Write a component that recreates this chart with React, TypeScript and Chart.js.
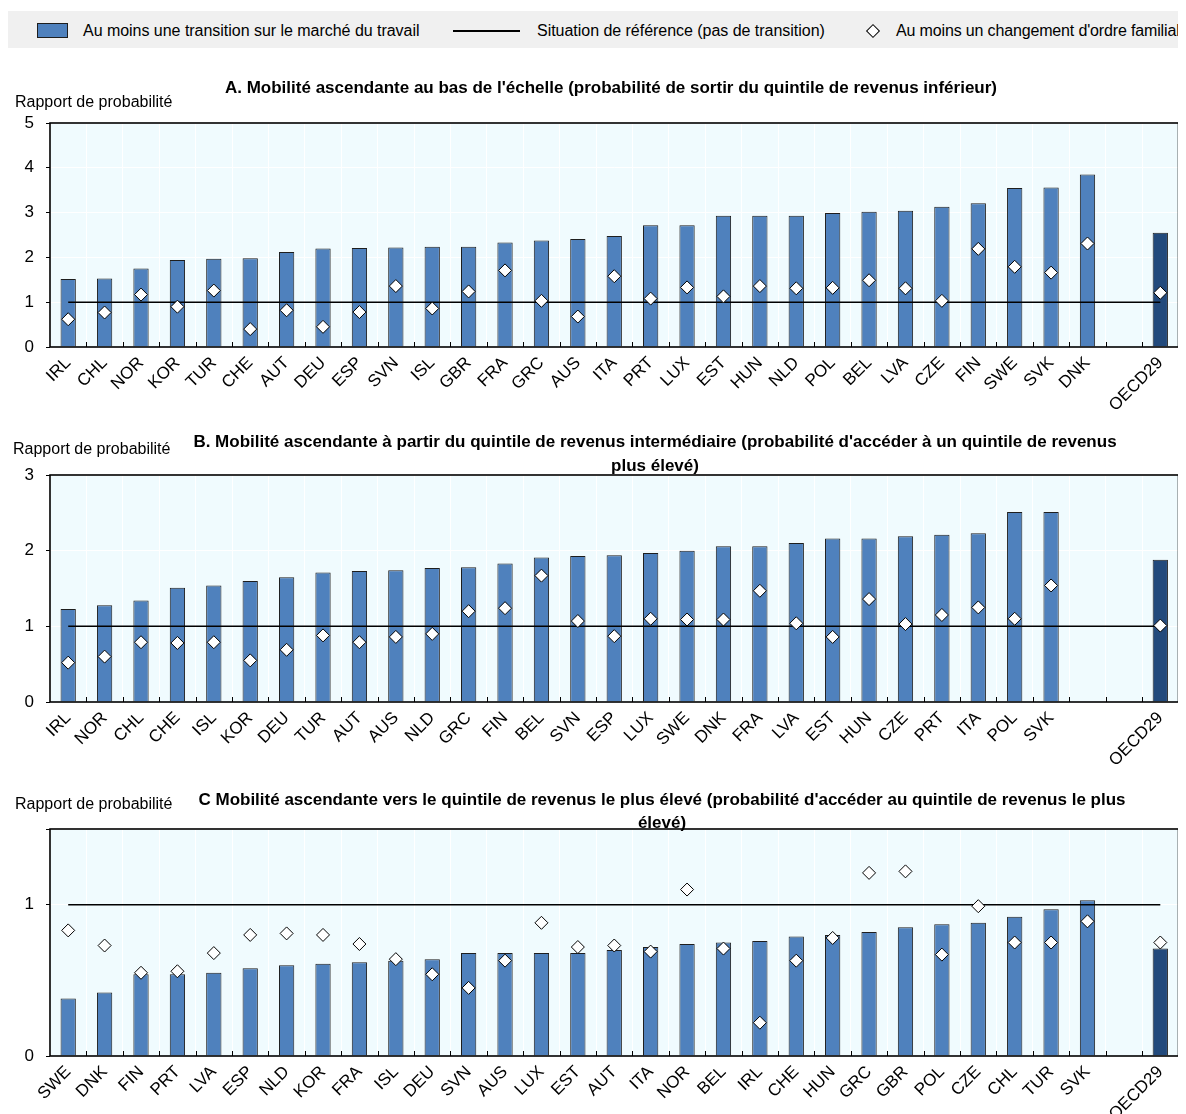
import React, { useEffect, useRef } from 'react';
import { Chart, registerables } from 'chart.js';

Chart.register(...registerables);

const FONT = "'Liberation Sans Narrow', 'Arial Narrow', 'Liberation Sans', Arial, sans-serif";

// ---------- Data ----------
const referenceValue = 1;

const labelsA = ['IRL','CHL','NOR','KOR','TUR','CHE','AUT','DEU','ESP','SVN','ISL','GBR','FRA','GRC','AUS','ITA','PRT','LUX','EST','HUN','NLD','POL','BEL','LVA','CZE','FIN','SWE','SVK','DNK','','OECD29'];
const barsA = [1.52,1.53,1.75,1.94,1.97,1.98,2.12,2.20,2.21,2.22,2.24,2.24,2.33,2.38,2.41,2.48,2.72,2.72,2.93,2.93,2.93,2.99,3.02,3.04,3.13,3.21,3.55,3.56,3.85,null,2.55];
const diamondsA = [0.62,0.77,1.17,0.90,1.26,0.40,0.82,0.45,0.78,1.36,0.86,1.24,1.71,1.03,0.68,1.58,1.08,1.33,1.13,1.36,1.31,1.32,1.49,1.31,1.03,2.19,1.79,1.66,2.31,null,1.21];

const labelsB = ['IRL','NOR','CHL','CHE','ISL','KOR','DEU','TUR','AUT','AUS','NLD','GRC','FIN','BEL','SVN','ESP','LUX','SWE','DNK','FRA','LVA','EST','HUN','CZE','PRT','ITA','POL','SVK','','','OECD29'];
const barsB = [1.23,1.28,1.34,1.51,1.54,1.60,1.65,1.71,1.73,1.74,1.77,1.78,1.83,1.91,1.93,1.94,1.97,2.00,2.06,2.06,2.10,2.16,2.16,2.19,2.21,2.23,2.51,2.51,null,null,1.88];
const diamondsB = [0.52,0.60,0.79,0.78,0.79,0.55,0.69,0.88,0.79,0.86,0.90,1.20,1.24,1.67,1.07,0.87,1.10,1.09,1.09,1.47,1.04,0.86,1.36,1.03,1.15,1.25,1.10,1.54,null,null,1.01];

const labelsC = ['SWE','DNK','FIN','PRT','LVA','ESP','NLD','KOR','FRA','ISL','DEU','SVN','AUS','LUX','EST','AUT','ITA','NOR','BEL','IRL','CHE','HUN','GRC','GBR','POL','CZE','CHL','TUR','SVK','','OECD29'];
const barsC = [0.38,0.42,0.54,0.54,0.55,0.58,0.60,0.61,0.62,0.63,0.64,0.68,0.68,0.68,0.68,0.70,0.72,0.74,0.75,0.76,0.79,0.80,0.82,0.85,0.87,0.88,0.92,0.97,1.03,null,0.71];
const diamondsC = [0.83,0.73,0.55,0.56,0.68,0.80,0.81,0.80,0.74,0.64,0.54,0.45,0.63,0.88,0.72,0.73,0.69,1.10,0.71,0.22,0.63,0.78,1.21,1.22,0.67,0.99,0.75,0.75,0.89,null,0.75];

const yMaxA = 5;
const yMaxB = 3;
const yMaxC = 1.5;

const legendLabels = [
  'Au moins une transition sur le marché du travail',
  'Situation de référence (pas de transition)',
  "Au moins un changement d'ordre familial",
];
const yAxisTitle = 'Rapport de probabilité';
const titleA = ["A. Mobilité ascendante au bas de l'échelle (probabilité de sortir du quintile de revenus inférieur)"];
const titleB = ["B. Mobilité ascendante à partir du quintile de revenus intermédiaire (probabilité d'accéder à un quintile de revenus", 'plus élevé)'];
const titleC = ["C Mobilité ascendante vers le quintile de revenus le plus élevé (probabilité d'accéder au quintile de revenus le plus", 'élevé)'];

// ---------- Styles ----------
const BAR = '#4F81BD';
const BAR_DARK = '#224A7C';
const BAR_BORDER = '#1E1E1E';
const PLOT_BG = '#F0FBFE';

const framePlugin = {
  id: 'frame',
  beforeDraw(chart: any) {
    const { ctx, chartArea: a } = chart;
    ctx.save();
    ctx.fillStyle = PLOT_BG;
    ctx.fillRect(a.left, a.top, a.right - a.left, a.bottom - a.top);
    ctx.restore();
  },
  afterDatasetsDraw(chart: any) {
    const { ctx, chartArea: a } = chart;
    const n = chart.data.labels.length;
    const w = (a.right - a.left) / n;
    ctx.save();
    ctx.strokeStyle = '#000';
    ctx.lineWidth = 1;
    for (let i = 1; i < n; i++) {
      const x = Math.round(a.left + i * w) + 0.5;
      ctx.beginPath();
      ctx.moveTo(x, a.bottom);
      ctx.lineTo(x, a.bottom - 5);
      ctx.stroke();
    }
    ctx.lineWidth = 1.6;
    ctx.strokeRect(a.left, a.top, a.right - a.left, a.bottom - a.top);
    ctx.restore();
  },
};

type PanelProps = {
  labels: string[];
  bars: (number | null)[];
  diamonds: (number | null)[];
  yMax: number;
  top: number;
  plotHeight: number;
  xAxisHeight: number;
};

function Panel({ labels, bars, diamonds, yMax, top, plotHeight, xAxisHeight }: PanelProps) {
  const ref = useRef<HTMLCanvasElement | null>(null);
  const padTop = 20;
  const height = padTop + plotHeight + xAxisHeight;
  useEffect(() => {
    if (!ref.current) return;
    const chart = new Chart(ref.current, {
      type: 'bar',
      data: {
        labels,
        datasets: [
          {
            type: 'bar',
            data: bars as any,
            backgroundColor: labels.map((l) => (l === 'OECD29' ? BAR_DARK : BAR)),
            borderColor: BAR_BORDER,
            borderWidth: 1,
            barPercentage: 0.42,
            categoryPercentage: 1,
            order: 3,
          } as any,
          {
            type: 'line',
            data: labels.map(() => referenceValue),
            borderColor: '#000',
            borderWidth: 1.5,
            pointRadius: 0,
            fill: false,
            order: 2,
          } as any,
          {
            type: 'line',
            data: diamonds as any,
            showLine: false,
            pointStyle: 'rectRot',
            pointRadius: 6.5,
            pointBackgroundColor: '#fff',
            pointBorderColor: '#000',
            pointBorderWidth: 1,
            order: 1,
          } as any,
        ],
      },
      options: {
        animation: false,
        responsive: false,
        maintainAspectRatio: false,
        layout: { padding: { top: padTop, right: 4, left: 0, bottom: 0 } },
        plugins: { legend: { display: false }, tooltip: { enabled: false }, title: { display: false } },
        scales: {
          x: {
            grid: { color: '#FFFFFF', drawTicks: false, offset: true },
            border: { display: false },
            ticks: {
              autoSkip: false,
              maxRotation: 45,
              minRotation: 45,
              color: '#000',
              padding: 6,
              font: { size: 17, family: FONT },
            },
            afterFit(s: any) {
              s.height = xAxisHeight;
              s.paddingLeft = 0;
              s.paddingRight = 0;
            },
          },
          y: {
            min: 0,
            max: yMax,
            grid: { color: '#FFFFFF', tickColor: '#000', tickLength: 4 },
            border: { display: false },
            ticks: {
              stepSize: 1,
              color: '#000',
              padding: 12,
              font: { size: 17, family: FONT },
              callback: (v: any) => (Number.isInteger(v) ? String(v) : ''),
            },
            afterFit(s: any) {
              s.width = 42;
              s.paddingTop = 0;
              s.paddingBottom = 0;
            },
          },
        },
      } as any,
      plugins: [framePlugin],
    });
    return () => chart.destroy();
  }, []);
  return (
    <canvas
      ref={ref}
      width={1178}
      height={height}
      style={{ position: 'absolute', left: 0, top, width: 1178, height, display: 'block' }}
    />
  );
}

const textBase: React.CSSProperties = {
  position: 'absolute',
  fontFamily: FONT,
  fontSize: 16,
  color: '#000',
  whiteSpace: 'nowrap',
};

function Title({ lines, center, top, lh }: { lines: string[]; center: number; top: number; lh: number }) {
  return (
    <div
      style={{
        ...textBase,
        fontSize: 17,
        left: center - 600,
        width: 1200,
        top,
        lineHeight: lh + 'px',
        textAlign: 'center',
        fontWeight: 'bold',
        zIndex: 2,
      }}
    >
      {lines.map((l, i) => (
        <div key={i}>{l}</div>
      ))}
    </div>
  );
}

export default function App() {
  return (
    <div style={{ position: 'relative', width: 1178, height: 1106, fontFamily: FONT }}>
      {/* Legend */}
      <div style={{ position: 'absolute', left: 0, top: 3, width: 1178, height: 37, background: '#F0F0F0' }} />
      <div
        style={{
          position: 'absolute',
          left: 29,
          top: 15,
          width: 31,
          height: 15,
          background: BAR,
          border: '1px solid #1E1E1E',
          boxSizing: 'border-box',
        }}
      />
      <div style={{ ...textBase, left: 75, top: 13, lineHeight: '20px', letterSpacing: '-0.03px' }}>{legendLabels[0]}</div>
      <div style={{ position: 'absolute', left: 445, top: 22, width: 67, height: 1.5, background: '#000' }} />
      <div style={{ ...textBase, left: 529, top: 13, lineHeight: '20px', letterSpacing: '-0.03px' }}>{legendLabels[1]}</div>
      <div
        style={{
          position: 'absolute',
          left: 860,
          top: 18,
          width: 10,
          height: 10,
          background: '#fff',
          border: '1px solid #000',
          boxSizing: 'border-box',
          transform: 'rotate(45deg)',
        }}
      />
      <div style={{ ...textBase, left: 888, top: 13, lineHeight: '20px', letterSpacing: '-0.15px' }}>{legendLabels[2]}</div>

      {/* Panel A */}
      <div style={{ ...textBase, left: 7, top: 84, lineHeight: '20px', zIndex: 2 }}>{yAxisTitle}</div>
      <Title lines={titleA} center={603} top={69} lh={22} />
      <Panel labels={labelsA} bars={barsA} diamonds={diamondsA} yMax={yMaxA} top={95} plotHeight={224} xAxisHeight={75} />

      {/* Panel B */}
      <div style={{ ...textBase, left: 5, top: 431, lineHeight: '20px', zIndex: 2 }}>{yAxisTitle}</div>
      <Title lines={titleB} center={647} top={422} lh={24} />
      <Panel labels={labelsB} bars={barsB} diamonds={diamondsB} yMax={yMaxB} top={447} plotHeight={227} xAxisHeight={75} />

      {/* Panel C */}
      <div style={{ ...textBase, left: 7, top: 786, lineHeight: '20px', zIndex: 2 }}>{yAxisTitle}</div>
      <Title lines={titleC} center={654} top={780} lh={23} />
      <Panel labels={labelsC} bars={barsC} diamonds={diamondsC} yMax={yMaxC} top={801} plotHeight={227} xAxisHeight={58} />
    </div>
  );
}
